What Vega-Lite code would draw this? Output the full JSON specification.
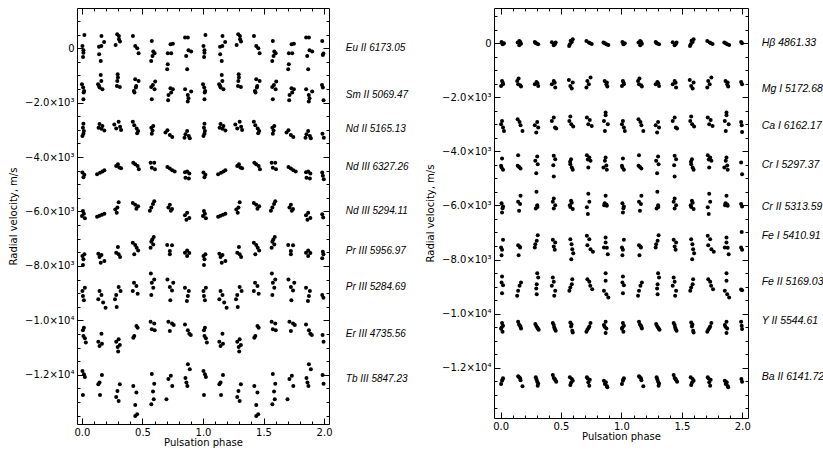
{
"$schema": "https://vega.github.io/schema/vega-lite/v6.json",
"background": "white",
"padding": {"left": 8, "top": 7, "right": 0, "bottom": 0},
"bounds": "flush",
"spacing": 165,
"config": {
  "view": {"stroke": "black", "strokeWidth": 1},
  "axis": {"domain": false, "grid": false, "tickColor": "black", "tickWidth": 1, "labelFont": "DejaVu Sans", "labelFontSize": 10, "labelColor": "black", "titleFont": "DejaVu Sans", "titleFontSize": 10, "titleFontWeight": "normal", "titleColor": "black", "labelFlush": false, "labelOverlap": false}
},
"datasets": {
  "L": [
    {"s":"Eu","p":[0.020,0.004,0.012,0.012,0.009,0.161,0.183,0.160,0.141,0.142,0.155,0.291,0.305,0.306,0.314,0.278,0.421,0.440,0.457,0.468,0.577,0.589,0.600,0.583,0.572,0.751,0.732,0.709,0.737,0.709,0.704,0.852,0.875,0.880,0.902,0.861,0.869,1.020,1.004,1.012,1.012,1.009,1.161,1.183,1.160,1.141,1.142,1.155,1.291,1.305,1.306,1.314,1.278,1.421,1.440,1.457,1.468,1.577,1.589,1.600,1.583,1.572,1.751,1.732,1.709,1.737,1.709,1.704,1.852,1.875,1.880,1.902,1.861,1.869,1.985,1.995,1.990],
     "v":[490,86,-73,-160,-318,453,233,86,61,-220,-465,515,453,330,245,122,453,86,0,-184,270,-122,-184,-282,-465,171,147,-184,-184,-588,-772,392,392,-73,-122,-282,-772,490,86,-73,-160,-318,453,233,86,61,-220,-465,515,453,330,245,122,453,86,0,-184,270,-122,-184,-282,-465,171,147,-184,-184,-588,-772,392,392,-73,-122,-282,-772,270,-196,-245]},
    {"s":"Sm","p":[0.000,0.010,0.018,0.014,0.012,0.155,0.160,0.133,0.141,0.146,0.169,0.295,0.297,0.292,0.289,0.313,0.440,0.468,0.448,0.445,0.429,0.434,0.605,0.586,0.572,0.600,0.577,0.731,0.751,0.737,0.715,0.712,0.852,0.902,0.874,0.880,0.874,1.000,1.010,1.018,1.014,1.012,1.155,1.160,1.133,1.141,1.146,1.169,1.295,1.297,1.292,1.289,1.313,1.440,1.468,1.448,1.445,1.429,1.434,1.605,1.586,1.572,1.600,1.577,1.731,1.751,1.737,1.715,1.712,1.852,1.902,1.874,1.880,1.874,1.983,1.990,1.996],
     "v":[-1323,-1445,-1568,-1629,-1874,-980,-1200,-1323,-1384,-1445,-1507,-955,-1078,-1200,-1384,-1420,-1139,-1200,-1384,-1445,-1568,-1629,-1225,-1348,-1420,-1507,-1874,-1470,-1507,-1629,-1715,-1911,-1507,-1593,-1715,-1837,-1960,-1323,-1445,-1568,-1629,-1874,-980,-1200,-1323,-1384,-1445,-1507,-955,-1078,-1200,-1384,-1420,-1139,-1200,-1384,-1445,-1568,-1629,-1225,-1348,-1420,-1507,-1874,-1470,-1507,-1629,-1715,-1911,-1507,-1593,-1715,-1837,-1960,-1348,-1445,-1911]},
    {"s":"NdII","p":[0.012,0.008,0.016,0.012,0.004,0.145,0.169,0.137,0.161,0.185,0.303,0.267,0.315,0.283,0.323,0.420,0.432,0.452,0.464,0.456,0.589,0.573,0.583,0.577,0.706,0.690,0.726,0.746,0.869,0.855,0.883,0.847,0.891,1.012,1.008,1.016,1.012,1.004,1.145,1.169,1.137,1.161,1.185,1.303,1.267,1.315,1.283,1.323,1.420,1.432,1.452,1.464,1.456,1.589,1.573,1.583,1.577,1.706,1.690,1.726,1.746,1.869,1.855,1.883,1.847,1.891,1.987,1.998],
     "v":[-2772,-2919,-3040,-3139,-3223,-2780,-2860,-2920,-2960,-3020,-2700,-2800,-2880,-2950,-3000,-2700,-2830,-2950,-3040,-3120,-2860,-2920,-3020,-3140,-3015,-3100,-3190,-3260,-3040,-3160,-3225,-3285,-3310,-2772,-2919,-3040,-3139,-3223,-2780,-2860,-2920,-2960,-3020,-2700,-2800,-2880,-2950,-3000,-2700,-2830,-2950,-3040,-3120,-2860,-2920,-3020,-3140,-3015,-3100,-3190,-3260,-3040,-3160,-3225,-3285,-3310,-3140,-3285]},
    {"s":"NdIIIa","p":[0.004,0.020,0.012,0.125,0.149,0.169,0.185,0.297,0.283,0.309,0.323,0.424,0.440,0.460,0.470,0.567,0.597,0.577,0.603,0.706,0.726,0.746,0.766,0.869,0.851,0.887,0.855,0.883,1.004,1.020,1.012,1.125,1.149,1.169,1.185,1.297,1.283,1.309,1.323,1.424,1.440,1.460,1.470,1.567,1.597,1.577,1.603,1.706,1.726,1.746,1.766,1.869,1.851,1.887,1.855,1.883,1.985,1.990,1.998],
     "v":[-4570,-4650,-4740,-4630,-4580,-4530,-4485,-4265,-4330,-4380,-4410,-4205,-4265,-4330,-4450,-4205,-4210,-4390,-4450,-4360,-4420,-4480,-4530,-4530,-4560,-4600,-4760,-4790,-4570,-4650,-4740,-4630,-4580,-4530,-4485,-4265,-4330,-4380,-4410,-4205,-4265,-4330,-4450,-4205,-4210,-4390,-4450,-4360,-4420,-4480,-4530,-4530,-4560,-4600,-4760,-4790,-4570,-4690,-4815]},
    {"s":"NdIIIb","p":[0.008,0.016,0.000,0.024,0.125,0.145,0.165,0.185,0.303,0.293,0.275,0.287,0.420,0.440,0.464,0.450,0.597,0.587,0.573,0.561,0.726,0.714,0.744,0.734,0.869,0.851,0.887,0.863,1.008,1.016,1.000,1.024,1.125,1.145,1.165,1.185,1.303,1.293,1.275,1.287,1.420,1.440,1.464,1.450,1.597,1.587,1.573,1.561,1.726,1.714,1.744,1.734,1.869,1.851,1.887,1.863,1.985,1.993],
     "v":[-5980,-6080,-6170,-6250,-6190,-6160,-6120,-6080,-5660,-5850,-5930,-6050,-5690,-5750,-5810,-5900,-5620,-5720,-5850,-5970,-5750,-5850,-5910,-5970,-6050,-6140,-6240,-6300,-5980,-6080,-6170,-6250,-6190,-6160,-6120,-6080,-5660,-5850,-5930,-6050,-5690,-5750,-5810,-5900,-5620,-5720,-5850,-5970,-5750,-5850,-5910,-5970,-6050,-6140,-6240,-6300,-6100,-6225]},
    {"s":"PrIIIa","p":[0.020,0.004,0.012,0.008,0.135,0.161,0.145,0.185,0.155,0.297,0.283,0.303,0.315,0.420,0.440,0.452,0.464,0.432,0.593,0.581,0.573,0.589,0.567,0.704,0.744,0.726,0.726,0.869,0.851,0.887,0.869,1.020,1.004,1.012,1.008,1.135,1.161,1.145,1.185,1.155,1.297,1.283,1.303,1.315,1.420,1.440,1.452,1.464,1.432,1.593,1.581,1.573,1.589,1.567,1.704,1.744,1.726,1.726,1.869,1.851,1.887,1.869,1.990,1.995,1.985],
     "v":[-7575,-7636,-7760,-7970,-7550,-7600,-7670,-7820,-7880,-7305,-7515,-7575,-7670,-7145,-7230,-7330,-7430,-7575,-6940,-7025,-7110,-7210,-7330,-7230,-7240,-7450,-7575,-7430,-7515,-7525,-7636,-7575,-7636,-7760,-7970,-7550,-7600,-7670,-7820,-7880,-7305,-7515,-7575,-7670,-7145,-7230,-7330,-7430,-7575,-6940,-7025,-7110,-7210,-7330,-7230,-7240,-7450,-7575,-7430,-7515,-7525,-7636,-7480,-7575,-7720]},
    {"s":"PrIIIb","p":[0.024,0.004,0.008,0.016,0.145,0.161,0.135,0.175,0.195,0.303,0.319,0.283,0.273,0.287,0.430,0.450,0.420,0.460,0.569,0.597,0.577,0.589,0.573,0.706,0.754,0.726,0.744,0.730,0.851,0.883,0.875,0.867,1.024,1.004,1.008,1.016,1.145,1.161,1.135,1.175,1.195,1.303,1.319,1.283,1.273,1.287,1.430,1.450,1.420,1.460,1.569,1.597,1.577,1.589,1.573,1.706,1.754,1.726,1.744,1.730,1.851,1.883,1.875,1.867,1.985,1.995],
     "v":[-8800,-8925,-9105,-9265,-8925,-9070,-9230,-9350,-9535,-8775,-8925,-9070,-9230,-9510,-8615,-8740,-8925,-9020,-8275,-8500,-8615,-8800,-9070,-8500,-8615,-8775,-8900,-9265,-8800,-8925,-9105,-9290,-8800,-8925,-9105,-9265,-8925,-9070,-9230,-9350,-9535,-8775,-8925,-9070,-9230,-9510,-8615,-8740,-8925,-9020,-8275,-8500,-8615,-8800,-9070,-8500,-8615,-8775,-8900,-9265,-8800,-8925,-9105,-9290,-9070,-9170]},
    {"s":"Er","p":[0.016,0.008,0.012,0.024,0.032,0.161,0.135,0.165,0.145,0.303,0.283,0.313,0.295,0.299,0.450,0.460,0.432,0.424,0.567,0.597,0.577,0.601,0.714,0.744,0.758,0.726,0.851,0.875,0.887,0.899,1.016,1.008,1.012,1.024,1.032,1.161,1.135,1.165,1.145,1.303,1.283,1.313,1.295,1.299,1.450,1.460,1.432,1.424,1.567,1.597,1.577,1.601,1.714,1.744,1.758,1.726,1.851,1.875,1.887,1.899,1.988,1.996],
     "v":[-10270,-10370,-10576,-10660,-10820,-10490,-10785,-10860,-10945,-10700,-10785,-10905,-10980,-11150,-10210,-10270,-10576,-10640,-10050,-10120,-10330,-10370,-10050,-10120,-10170,-10390,-10150,-10370,-10490,-10540,-10270,-10370,-10576,-10660,-10820,-10490,-10785,-10860,-10945,-10700,-10785,-10905,-10980,-11150,-10210,-10270,-10576,-10640,-10050,-10120,-10330,-10370,-10050,-10120,-10170,-10390,-10150,-10370,-10490,-10540,-10540,-10785]},
    {"s":"Tb","p":[0.004,0.016,0.024,0.008,0.165,0.145,0.135,0.149,0.313,0.293,0.283,0.303,0.424,0.450,0.440,0.456,0.440,0.577,0.597,0.587,0.593,0.573,0.734,0.714,0.746,0.698,0.875,0.891,0.855,0.863,0.871,1.004,1.016,1.024,1.008,1.165,1.145,1.135,1.149,1.313,1.293,1.283,1.303,1.424,1.450,1.440,1.456,1.440,1.577,1.597,1.587,1.593,1.573,1.734,1.714,1.746,1.698,1.875,1.891,1.855,1.863,1.871,1.988,1.996],
     "v":[-11862,-11985,-12083,-12743,-12010,-12290,-12350,-12743,-12350,-12597,-12818,-12965,-12413,-12658,-13112,-13455,-13516,-11970,-12330,-12621,-12903,-13090,-12035,-12160,-12413,-12903,-11618,-11800,-12120,-12290,-12413,-11862,-11985,-12083,-12743,-12010,-12290,-12350,-12743,-12350,-12597,-12818,-12965,-12413,-12658,-13112,-13455,-13516,-11970,-12330,-12621,-12903,-13090,-12035,-12160,-12413,-12903,-11618,-11800,-12120,-12290,-12413,-12010,-12330]}
  ],
  "R": [
    {"s":"Hb","p":[0.008,0.028,0.016,0.022,1.008,1.028,1.016,1.022],"v":[50,0,-40,-20,50,0,-40,-20]},
    {"s":"Hb","p":[0.155,0.141,0.169,0.155,0.163,1.155,1.141,1.169,1.155,1.163],"v":[85,25,-20,-75,45,85,25,-20,-75,45]},
    {"s":"Hb","p":[0.283,0.297,0.311,0.290,1.283,1.297,1.311,1.290],"v":[50,-10,-40,10,50,-10,-40,10]},
    {"s":"Hb","p":[0.424,0.456,0.440,0.448,1.424,1.456,1.440,1.448],"v":[40,30,-75,-40,40,30,-75,-40]},
    {"s":"Hb","p":[0.597,0.589,0.573,0.567,0.580,1.597,1.589,1.573,1.567,1.580],"v":[150,50,-40,-100,90,150,50,-40,-100,90]},
    {"s":"Hb","p":[0.710,0.730,0.754,0.740,1.710,1.730,1.754,1.740],"v":[85,25,-25,0,85,25,-25,0]},
    {"s":"Hb","p":[0.851,0.875,0.891,0.863,1.851,1.875,1.891,1.863],"v":[25,-40,-60,0,25,-40,-60,0]},
    {"s":"Hb","p":[1.990,1.998],"v":[50,0]},
    {"s":"Mg","p":[0.012,0.020,0.004,0.018,1.012,1.020,1.004,1.018],"v":[-1393,-1516,-1578,-1460,-1393,-1516,-1578,-1460]},
    {"s":"Mg","p":[0.149,0.137,0.145,0.169,0.163,1.149,1.137,1.145,1.169,1.163],"v":[-1307,-1393,-1516,-1602,-1550,-1307,-1393,-1516,-1602,-1550]},
    {"s":"Mg","p":[0.297,0.283,0.311,0.305,1.297,1.283,1.311,1.305],"v":[-1430,-1516,-1578,-1480,-1430,-1516,-1578,-1480]},
    {"s":"Mg","p":[0.440,0.424,0.452,0.448,1.440,1.424,1.452,1.448],"v":[-1393,-1516,-1640,-1460,-1393,-1516,-1640,-1460]},
    {"s":"Mg","p":[0.565,0.597,0.577,0.589,1.565,1.597,1.577,1.589],"v":[-1356,-1455,-1578,-1677,-1356,-1455,-1578,-1677]},
    {"s":"Mg","p":[0.744,0.718,0.730,0.710,1.744,1.718,1.730,1.710],"v":[-1270,-1393,-1516,-1640,-1270,-1393,-1516,-1640]},
    {"s":"Mg","p":[0.861,0.875,0.883,0.879,1.861,1.875,1.883,1.879],"v":[-1393,-1516,-1602,-1450,-1393,-1516,-1602,-1450]},
    {"s":"Mg","p":[1.990,1.998],"v":[-1430,-1516]},
    {"s":"Ca","p":[0.012,0.004,0.020,0.028,1.012,1.004,1.020,1.028],"v":[-2872,-2995,-3118,-3241,-2872,-2995,-3118,-3241]},
    {"s":"Ca","p":[0.141,0.157,0.165,0.181,1.141,1.157,1.165,1.181],"v":[-2810,-2910,-3030,-3241,-2810,-2910,-3030,-3241]},
    {"s":"Ca","p":[0.303,0.283,0.311,0.295,1.303,1.283,1.311,1.295],"v":[-2910,-3030,-3118,-3303,-2910,-3030,-3118,-3303]},
    {"s":"Ca","p":[0.440,0.424,0.450,0.460,1.440,1.424,1.450,1.460],"v":[-2750,-2872,-3118,-3155,-2750,-2872,-3118,-3155]},
    {"s":"Ca","p":[0.577,0.569,0.585,0.601,1.577,1.569,1.585,1.601],"v":[-2712,-2872,-2995,-3081,-2712,-2872,-2995,-3081]},
    {"s":"Ca","p":[0.714,0.738,0.726,0.754,1.714,1.738,1.726,1.754],"v":[-2750,-2835,-2995,-3057,-2750,-2835,-2995,-3057]},
    {"s":"Ca","p":[0.869,0.869,0.855,0.887,0.863,1.869,1.869,1.855,1.887,1.863],"v":[-2565,-2664,-2872,-2995,-3241,-2565,-2664,-2872,-2995,-3241]},
    {"s":"Ca","p":[1.990,1.995,1.998],"v":[-2910,-3030,-3280]},
    {"s":"CrI","p":[0.012,0.004,0.020,0.008,1.012,1.004,1.020,1.008],"v":[-4264,-4535,-4683,-4600,-4264,-4535,-4683,-4600]},
    {"s":"CrI","p":[0.145,0.141,0.165,0.153,1.145,1.141,1.165,1.153],"v":[-4140,-4535,-4633,-4580,-4140,-4535,-4633,-4580]},
    {"s":"CrI","p":[0.303,0.287,0.307,0.295,1.303,1.287,1.307,1.295],"v":[-4190,-4350,-4473,-4806,-4190,-4350,-4473,-4806]},
    {"s":"CrI","p":[0.440,0.452,0.436,0.440,1.440,1.452,1.436,1.440],"v":[-4165,-4289,-4510,-4930,-4165,-4289,-4510,-4930]},
    {"s":"CrI","p":[0.583,0.577,0.589,0.597,0.575,1.583,1.577,1.589,1.597,1.575],"v":[-4289,-4473,-4596,-4683,-4380,-4289,-4473,-4596,-4683,-4380]},
    {"s":"CrI","p":[0.714,0.734,0.744,0.726,0.722,1.714,1.734,1.744,1.726,1.722],"v":[-4140,-4227,-4350,-4596,-4300,-4140,-4227,-4350,-4596,-4300]},
    {"s":"CrI","p":[0.869,0.863,0.851,0.879,0.875,1.869,1.863,1.851,1.879,1.875],"v":[-4227,-4350,-4596,-4683,-4520,-4227,-4350,-4596,-4683,-4520]},
    {"s":"CrI","p":[1.990,1.998],"v":[-4410,-4843]},
    {"s":"CrII","p":[0.008,0.020,0.012,0.016,1.008,1.020,1.012,1.016],"v":[-5915,-6040,-6260,-6100,-5915,-6040,-6260,-6100]},
    {"s":"CrII","p":[0.165,0.145,0.161,0.153,1.165,1.145,1.161,1.153],"v":[-5645,-5865,-5950,-6200,-5645,-5865,-5950,-6200]},
    {"s":"CrII","p":[0.297,0.303,0.291,0.305,1.297,1.303,1.291,1.305],"v":[-5495,-5990,-6110,-6060,-5495,-5990,-6110,-6060]},
    {"s":"CrII","p":[0.440,0.432,0.452,0.440,1.440,1.432,1.452,1.440],"v":[-5740,-5865,-5990,-6110,-5740,-5865,-5990,-6110]},
    {"s":"CrII","p":[0.583,0.573,0.597,0.589,0.577,1.583,1.573,1.597,1.589,1.577],"v":[-5830,-5990,-6135,-5900,-6060,-5830,-5990,-6135,-5900,-6060]},
    {"s":"CrII","p":[0.726,0.734,0.714,0.722,1.726,1.734,1.714,1.722],"v":[-5570,-5865,-6070,-6320,-5570,-5865,-6070,-6320]},
    {"s":"CrII","p":[0.869,0.861,0.879,0.875,0.857,1.869,1.861,1.879,1.875,1.857],"v":[-5645,-5915,-6010,-5960,-5990,-5645,-5915,-6010,-5960,-5990]},
    {"s":"CrII","p":[1.990,1.998],"v":[-5950,-6040]},
    {"s":"FeI","p":[0.020,0.004,0.012,0.008,1.020,1.004,1.012,1.008],"v":[-7273,-7557,-7643,-7840,-7273,-7557,-7643,-7840]},
    {"s":"FeI","p":[0.145,0.161,0.149,0.157,1.145,1.161,1.149,1.157],"v":[-7470,-7557,-7840,-7520,-7470,-7557,-7840,-7520]},
    {"s":"FeI","p":[0.307,0.299,0.287,0.283,1.307,1.299,1.287,1.283],"v":[-7100,-7310,-7433,-7557,-7100,-7310,-7433,-7557]},
    {"s":"FeI","p":[0.432,0.452,0.440,0.448,1.432,1.452,1.440,1.448],"v":[-7273,-7372,-7520,-7643,-7273,-7372,-7520,-7643]},
    {"s":"FeI","p":[0.577,0.587,0.593,0.601,0.585,1.577,1.587,1.593,1.601,1.585],"v":[-7250,-7433,-7618,-7766,-7988,-7250,-7433,-7618,-7766,-7988]},
    {"s":"FeI","p":[0.714,0.734,0.718,0.744,0.764,1.714,1.734,1.718,1.744,1.764],"v":[-7125,-7250,-7470,-7618,-7717,-7125,-7250,-7470,-7618,-7717]},
    {"s":"FeI","p":[0.869,0.869,0.855,0.887,0.879,1.869,1.869,1.855,1.887,1.879],"v":[-7187,-7372,-7557,-7803,-7560,-7187,-7372,-7557,-7803,-7560]},
    {"s":"FeI","p":[1.995,1.990,1.998],"v":[-6978,-7557,-7643]},
    {"s":"FeII","p":[0.012,0.008,0.020,0.012,1.012,1.008,1.020,1.012],"v":[-8628,-8850,-8948,-9244,-8628,-8850,-8948,-9244]},
    {"s":"FeII","p":[0.169,0.157,0.145,0.137,1.169,1.157,1.145,1.137],"v":[-8850,-8973,-9158,-9342,-8850,-8973,-9158,-9342]},
    {"s":"FeII","p":[0.303,0.311,0.299,0.295,0.299,1.303,1.311,1.299,1.295,1.299],"v":[-8505,-8665,-8911,-9071,-9281,-8505,-8665,-8911,-9071,-9281]},
    {"s":"FeII","p":[0.432,0.440,0.424,0.452,0.444,1.432,1.440,1.424,1.452,1.444],"v":[-8665,-8825,-8973,-9158,-9342,-8665,-8825,-8973,-9158,-9342]},
    {"s":"FeII","p":[0.593,0.589,0.577,0.569,1.593,1.589,1.577,1.569],"v":[-8727,-8911,-9034,-9158,-8727,-8911,-9034,-9158]},
    {"s":"FeII","p":[0.718,0.734,0.742,0.758,1.718,1.734,1.742,1.758],"v":[-8727,-8825,-8973,-9096,-8727,-8825,-8973,-9096]},
    {"s":"FeII","p":[0.869,0.869,0.855,0.875,0.891,1.869,1.869,1.855,1.875,1.891],"v":[-8505,-8788,-9158,-9281,-9404,-8505,-8788,-9158,-9281,-9404]},
    {"s":"FeII","p":[1.990,1.998],"v":[-9110,-9135]},
    {"s":"YII","p":[0.012,0.008,0.016,0.020,0.004,1.012,1.008,1.016,1.020,1.004],"v":[-10352,-10512,-10672,-10450,-10560,-10352,-10512,-10672,-10450,-10560]},
    {"s":"YII","p":[0.145,0.161,0.169,0.153,0.165,1.145,1.161,1.169,1.153,1.165],"v":[-10303,-10450,-10550,-10400,-10490,-10303,-10450,-10550,-10400,-10490]},
    {"s":"YII","p":[0.287,0.303,0.315,0.295,0.309,1.287,1.303,1.315,1.295,1.309],"v":[-10390,-10512,-10600,-10460,-10560,-10390,-10512,-10600,-10460,-10560]},
    {"s":"YII","p":[0.432,0.444,0.456,0.440,0.450,1.432,1.444,1.456,1.440,1.450],"v":[-10352,-10512,-10635,-10420,-10580,-10352,-10512,-10635,-10420,-10580]},
    {"s":"YII","p":[0.577,0.583,0.593,0.597,0.587,1.577,1.583,1.593,1.597,1.587],"v":[-10327,-10475,-10635,-10697,-10400,-10327,-10475,-10635,-10697,-10400]},
    {"s":"YII","p":[0.744,0.734,0.718,0.710,0.726,1.744,1.734,1.718,1.710,1.726],"v":[-10352,-10475,-10600,-10672,-10540,-10352,-10475,-10600,-10672,-10540]},
    {"s":"YII","p":[0.869,0.855,0.875,0.869,0.861,1.869,1.855,1.875,1.869,1.861],"v":[-10303,-10426,-10550,-10722,-10490,-10303,-10426,-10550,-10722,-10490]},
    {"s":"YII","p":[1.990,1.995,1.998],"v":[-10303,-10450,-10574]},
    {"s":"BaII","p":[0.020,0.012,0.004,0.016,1.020,1.012,1.004,1.016],"v":[-12397,-12484,-12607,-12440,-12397,-12484,-12607,-12440]},
    {"s":"BaII","p":[0.145,0.161,0.181,0.153,0.165,1.145,1.161,1.181,1.153,1.165],"v":[-12323,-12397,-12693,-12360,-12470,-12323,-12397,-12693,-12360,-12470]},
    {"s":"BaII","p":[0.291,0.303,0.307,0.297,0.311,1.291,1.303,1.307,1.297,1.311],"v":[-12360,-12520,-12668,-12440,-12590,-12360,-12520,-12668,-12440,-12590]},
    {"s":"BaII","p":[0.432,0.448,0.460,0.440,0.454,1.432,1.448,1.460,1.440,1.454],"v":[-12274,-12422,-12520,-12380,-12470,-12274,-12422,-12520,-12380,-12470]},
    {"s":"BaII","p":[0.573,0.597,0.577,0.589,0.583,1.573,1.597,1.577,1.589,1.583],"v":[-12360,-12484,-12644,-12420,-12560,-12360,-12484,-12644,-12420,-12560]},
    {"s":"BaII","p":[0.714,0.738,0.726,0.734,0.720,1.714,1.738,1.726,1.734,1.720],"v":[-12360,-12446,-12545,-12668,-12400,-12360,-12446,-12545,-12668,-12400]},
    {"s":"BaII","p":[0.855,0.863,0.883,0.871,0.879,1.855,1.863,1.883,1.871,1.879],"v":[-12484,-12607,-12730,-12540,-12680,-12484,-12607,-12730,-12540,-12680]},
    {"s":"BaII","p":[1.992,1.998],"v":[-12422,-12520]}
  ],
  "LL": [
    {"t":"Eu II 6173.05","y":0},
    {"t":"Sm II 5069.47","y":-1720},
    {"t":"Nd II 5165.13","y":-2975},
    {"t":"Nd III 6327.26","y":-4355},
    {"t":"Nd III 5294.11","y":-5990},
    {"t":"Pr III 5956.97","y":-7450},
    {"t":"Pr III 5284.69","y":-8775},
    {"t":"Er III 4735.56","y":-10490},
    {"t":"Tb III 5847.23","y":-12170}
  ],
  "RL": [
    {"t":"Hβ 4861.33","y":0},
    {"t":"Mg I 5172.68","y":-1678},
    {"t":"Ca I 6162.17","y":-3057},
    {"t":"Cr I 5297.37","y":-4499},
    {"t":"Cr II 5313.59","y":-6040},
    {"t":"Fe I 5410.91","y":-7124},
    {"t":"Fe II 5169.03","y":-8850},
    {"t":"Y II 5544.61","y":-10266},
    {"t":"Ba II 6141.72","y":-12362}
  ]
},
"hconcat": [
  {
    "width": 252, "height": 416,
    "resolve": {"axis": {"x": "independent", "y": "independent"}},
    "layer": [
      {
        "data": {"name": "L"},
        "transform": [{"flatten": ["p", "v"]}],
        "mark": {"type": "circle", "size": 16, "color": "black", "opacity": 1},
        "encoding": {
          "x": {"field": "p", "type": "quantitative", "scale": {"domain": [-0.041, 2.041], "nice": false, "zero": false},
                "axis": {"orient": "bottom", "values": [0, 0.5, 1, 1.5, 2], "format": ".1f", "tickSize": -6, "labelPadding": 9, "title": "Pulsation phase", "titlePadding": 0}},
          "y": {"field": "v", "type": "quantitative", "scale": {"domain": [-13812, 1481], "nice": false, "zero": false},
                "axis": {"orient": "left", "values": [0, -2000, -4000, -6000, -8000, -10000, -12000], "tickSize": -6, "labelPadding": 9, "title": "Radial velocity, m/s", "titlePadding": 6,
                         "labelExpr": "datum.value == 0 ? '0' : (abs(datum.value) >= 10000 ? '\u2212' + format(abs(datum.value)/10000, '.1f') + '\u00d710\u2074' : '\u2212' + format(abs(datum.value)/1000, '.1f') + '\u00d710\u00b3')"}}
        }
      },
      {
        "data": {"name": "LL"},
        "mark": {"type": "point", "opacity": 0},
        "encoding": {
          "x": {"datum": 1, "type": "quantitative", "scale": {"domain": [-0.041, 2.041], "nice": false, "zero": false},
                "axis": {"orient": "bottom", "values": [0,0.1,0.2,0.3,0.4,0.5,0.6,0.7,0.8,0.9,1,1.1,1.2,1.3,1.4,1.5,1.6,1.7,1.8,1.9,2], "tickSize": -3, "labels": false, "title": null}},
          "y": {"field": "y", "type": "quantitative", "scale": {"domain": [-13812, 1481], "nice": false, "zero": false},
                "axis": {"orient": "left", "values": [1000,500,0,-500,-1000,-1500,-2000,-2500,-3000,-3500,-4000,-4500,-5000,-5500,-6000,-6500,-7000,-7500,-8000,-8500,-9000,-9500,-10000,-10500,-11000,-11500,-12000,-12500,-13000,-13500], "tickSize": -3, "labels": false, "title": null}}
        }
      },
      {
        "data": {"name": "LL"},
        "mark": {"type": "point", "opacity": 0},
        "encoding": {
          "x": {"datum": 1, "type": "quantitative", "scale": {"domain": [-0.041, 2.041], "nice": false, "zero": false},
                "axis": {"orient": "top", "values": [0, 0.5, 1, 1.5, 2], "tickSize": -6, "labels": false, "title": null}},
          "y": {"field": "y", "type": "quantitative", "scale": {"domain": [-13812, 1481], "nice": false, "zero": false},
                "axis": {"orient": "right", "values": [0, -2000, -4000, -6000, -8000, -10000, -12000], "tickSize": -6, "labels": false, "title": null}}
        }
      },
      {
        "data": {"name": "LL"},
        "mark": {"type": "point", "opacity": 0},
        "encoding": {
          "x": {"datum": 1, "type": "quantitative", "scale": {"domain": [-0.041, 2.041], "nice": false, "zero": false},
                "axis": {"orient": "top", "values": [0,0.1,0.2,0.3,0.4,0.5,0.6,0.7,0.8,0.9,1,1.1,1.2,1.3,1.4,1.5,1.6,1.7,1.8,1.9,2], "tickSize": -3, "labels": false, "title": null}},
          "y": {"field": "y", "type": "quantitative", "scale": {"domain": [-13812, 1481], "nice": false, "zero": false},
                "axis": {"orient": "right", "values": [1000,500,0,-500,-1000,-1500,-2000,-2500,-3000,-3500,-4000,-4500,-5000,-5500,-6000,-6500,-7000,-7500,-8000,-8500,-9000,-9500,-10000,-10500,-11000,-11500,-12000,-12500,-13000,-13500], "tickSize": -3, "labels": false, "title": null}}
        }
      },
      {
        "data": {"name": "LL"},
        "mark": {"type": "text", "align": "left", "baseline": "middle", "font": "Liberation Sans", "fontStyle": "italic", "fontSize": 10, "color": "black"},
        "encoding": {
          "x": {"datum": 2.18, "type": "quantitative", "scale": {"domain": [-0.041, 2.041], "nice": false, "zero": false}, "axis": null},
          "y": {"field": "y", "type": "quantitative", "scale": {"domain": [-13812, 1481], "nice": false, "zero": false}, "axis": null},
          "text": {"field": "t"}
        }
      }
    ]
  },
  {
    "width": 254, "height": 410,
    "resolve": {"axis": {"x": "independent", "y": "independent"}},
    "layer": [
      {
        "data": {"name": "R"},
        "transform": [{"flatten": ["p", "v"]}],
        "mark": {"type": "circle", "size": 16, "color": "black", "opacity": 1},
        "encoding": {
          "x": {"field": "p", "type": "quantitative", "scale": {"domain": [-0.0546, 2.047], "nice": false, "zero": false},
                "axis": {"orient": "bottom", "values": [0, 0.5, 1, 1.5, 2], "format": ".1f", "tickSize": -6, "labelPadding": 9, "title": "Pulsation phase", "titlePadding": 0}},
          "y": {"field": "v", "type": "quantitative", "scale": {"domain": [-13863, 1305], "nice": false, "zero": false},
                "axis": {"orient": "left", "values": [0, -2000, -4000, -6000, -8000, -10000, -12000], "tickSize": -6, "labelPadding": 9, "title": "Radial velocity, m/s", "titlePadding": 6,
                         "labelExpr": "datum.value == 0 ? '0' : (abs(datum.value) >= 10000 ? '\u2212' + format(abs(datum.value)/10000, '.1f') + '\u00d710\u2074' : '\u2212' + format(abs(datum.value)/1000, '.1f') + '\u00d710\u00b3')"}}
        }
      },
      {
        "data": {"name": "RL"},
        "mark": {"type": "point", "opacity": 0},
        "encoding": {
          "x": {"datum": 1, "type": "quantitative", "scale": {"domain": [-0.0546, 2.047], "nice": false, "zero": false},
                "axis": {"orient": "bottom", "values": [0,0.1,0.2,0.3,0.4,0.5,0.6,0.7,0.8,0.9,1,1.1,1.2,1.3,1.4,1.5,1.6,1.7,1.8,1.9,2], "tickSize": -3, "labels": false, "title": null}},
          "y": {"field": "y", "type": "quantitative", "scale": {"domain": [-13863, 1305], "nice": false, "zero": false},
                "axis": {"orient": "left", "values": [1000,500,0,-500,-1000,-1500,-2000,-2500,-3000,-3500,-4000,-4500,-5000,-5500,-6000,-6500,-7000,-7500,-8000,-8500,-9000,-9500,-10000,-10500,-11000,-11500,-12000,-12500,-13000,-13500], "tickSize": -3, "labels": false, "title": null}}
        }
      },
      {
        "data": {"name": "RL"},
        "mark": {"type": "point", "opacity": 0},
        "encoding": {
          "x": {"datum": 1, "type": "quantitative", "scale": {"domain": [-0.0546, 2.047], "nice": false, "zero": false},
                "axis": {"orient": "top", "values": [0, 0.5, 1, 1.5, 2], "tickSize": -6, "labels": false, "title": null}},
          "y": {"field": "y", "type": "quantitative", "scale": {"domain": [-13863, 1305], "nice": false, "zero": false},
                "axis": {"orient": "right", "values": [0, -2000, -4000, -6000, -8000, -10000, -12000], "tickSize": -6, "labels": false, "title": null}}
        }
      },
      {
        "data": {"name": "RL"},
        "mark": {"type": "point", "opacity": 0},
        "encoding": {
          "x": {"datum": 1, "type": "quantitative", "scale": {"domain": [-0.0546, 2.047], "nice": false, "zero": false},
                "axis": {"orient": "top", "values": [0,0.1,0.2,0.3,0.4,0.5,0.6,0.7,0.8,0.9,1,1.1,1.2,1.3,1.4,1.5,1.6,1.7,1.8,1.9,2], "tickSize": -3, "labels": false, "title": null}},
          "y": {"field": "y", "type": "quantitative", "scale": {"domain": [-13863, 1305], "nice": false, "zero": false},
                "axis": {"orient": "right", "values": [1000,500,0,-500,-1000,-1500,-2000,-2500,-3000,-3500,-4000,-4500,-5000,-5500,-6000,-6500,-7000,-7500,-8000,-8500,-9000,-9500,-10000,-10500,-11000,-11500,-12000,-12500,-13000,-13500], "tickSize": -3, "labels": false, "title": null}}
        }
      },
      {
        "data": {"name": "RL"},
        "mark": {"type": "text", "align": "left", "baseline": "middle", "font": "Liberation Sans", "fontStyle": "italic", "fontSize": 10.5, "color": "black"},
        "encoding": {
          "x": {"datum": 2.16, "type": "quantitative", "scale": {"domain": [-0.0546, 2.047], "nice": false, "zero": false}, "axis": null},
          "y": {"field": "y", "type": "quantitative", "scale": {"domain": [-13863, 1305], "nice": false, "zero": false}, "axis": null},
          "text": {"field": "t"}
        }
      }
    ]
  }
]
}
